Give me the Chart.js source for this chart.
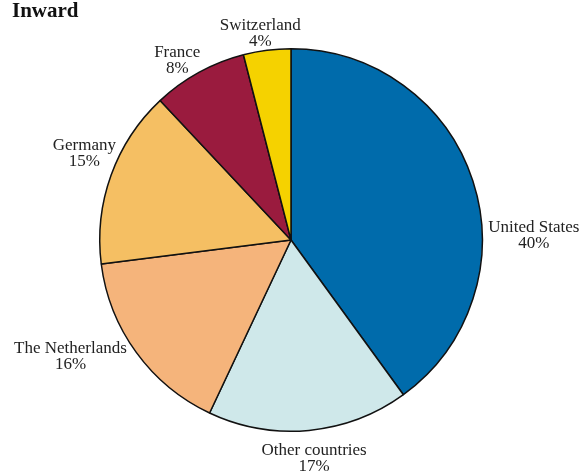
<!DOCTYPE html>
<html>
<head>
<meta charset="utf-8">
<title>Inward</title>
<script src="https://cdn.jsdelivr.net/npm/chart.js@4/dist/chart.umd.min.js"></script>
<style>
  html, body { margin: 0; padding: 0; background: #fff; }
  #wrap { width: 583px; height: 471px; position: relative; }
</style>
</head>
<body>
<div id="wrap"><canvas id="inwardPie"></canvas></div>
<script>
// ── DATA ──────────────────────────────────────────
// Slices go clockwise from 12 o'clock.
const countries = ['United States', 'Other countries', 'The Netherlands', 'Germany', 'France', 'Switzerland'];
const shares    = [40, 17, 16, 15, 8, 4];
const colours   = ['#006bab', '#cfe8ea', '#f5b47b', '#f5bf63', '#9a1b3e', '#f5d200'];

// ── LABEL PLUGIN ──────────────────────────────────
// Puts "name / xx%" outside each slice, along its middle angle,
// then nudges it a bit so the labels sit clear of each other.
const labelNudge = [[40, 58], [3, 3], [-48, -12], [-6, -18], [-11, 4], [-4, 2]];

const outsideLabels = {
  id: 'outsideLabels',
  afterDatasetsDraw(chart) {
    const ctx = chart.ctx;
    const arcs = chart.getDatasetMeta(0).data;

    ctx.save();
    ctx.fillStyle = '#222';
    ctx.textAlign = 'center';
    ctx.textBaseline = 'alphabetic';
    ctx.font = '17px "Liberation Serif", serif';

    arcs.forEach((arc, i) => {
      const p = arc.getProps(['x', 'y', 'startAngle', 'endAngle', 'outerRadius'], true);
      const mid = (p.startAngle + p.endAngle) / 2;
      const d = p.outerRadius + 22;
      const x = p.x + Math.cos(mid) * d + labelNudge[i][0];
      const y = p.y + Math.sin(mid) * d + labelNudge[i][1];
      ctx.fillText(countries[i], x, y);
      ctx.fillText(shares[i] + '%', x, y + 16);
    });

    // heading in the top-left corner
    ctx.textAlign = 'left';
    ctx.fillStyle = '#111';
    ctx.font = 'bold 21px "Liberation Serif", serif';
    ctx.fillText('Inward', 12, 17);
    ctx.restore();
  }
};

// ── BUILD CHART ───────────────────────────────────
new Chart(document.getElementById('inwardPie'), {
  type: 'pie',
  data: {
    labels: countries,
    datasets: [{
      data: shares,
      backgroundColor: colours,
      borderColor: '#111',
      borderWidth: 1.5
    }]
  },
  options: {
    responsive: true,
    maintainAspectRatio: false,
    animation: false,
    layout: { padding: { top: 48, bottom: 39, left: 99, right: 100 } },
    plugins: {
      legend: { display: false },
      tooltip: { enabled: false }
    }
  },
  plugins: [outsideLabels]
});
</script>
</body>
</html>
